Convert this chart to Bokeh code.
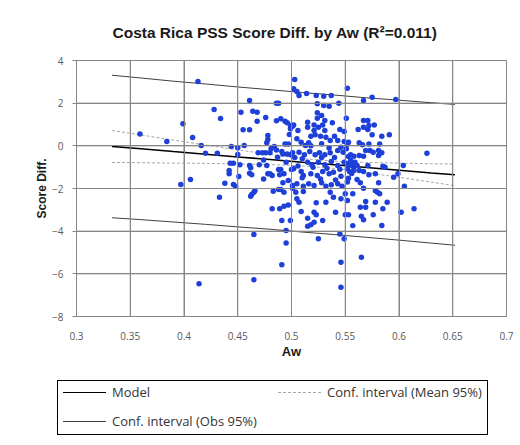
from bokeh.plotting import figure
from bokeh.layouts import column
from bokeh.models import FixedTicker, ColumnDataSource, Range1d, Div
from bokeh.embed import file_html
from bokeh.resources import INLINE

# ---------------- data ----------------
aw = [0.413, 0.399, 0.359, 0.384, 0.408, 0.416, 0.420, 0.406, 0.397, 0.414,
      0.461, 0.428, 0.453, 0.464, 0.468, 0.486, 0.488, 0.434, 0.468, 0.476,
      0.486, 0.490, 0.494, 0.496, 0.499, 0.501, 0.455, 0.461, 0.498, 0.478,
      0.478, 0.477, 0.494, 0.497, 0.444, 0.450, 0.456, 0.484, 0.486, 0.491,
      0.431, 0.450, 0.469, 0.473, 0.476, 0.480, 0.481, 0.492, 0.496, 0.499,
      0.474, 0.487, 0.495, 0.443, 0.446, 0.452, 0.461, 0.462, 0.470, 0.477,
      0.488, 0.490, 0.500, 0.442, 0.442, 0.451, 0.461, 0.463, 0.478, 0.480,
      0.482, 0.474, 0.489, 0.493, 0.497, 0.438, 0.446, 0.448, 0.492, 0.501,
      0.501, 0.466, 0.465, 0.463, 0.462, 0.483, 0.488, 0.490, 0.493, 0.433,
      0.482, 0.489, 0.493, 0.497, 0.491, 0.465, 0.495, 0.495, 0.491, 0.465,
      0.503, 0.502, 0.505, 0.507, 0.514, 0.523, 0.530, 0.537, 0.552, 0.524,
      0.530, 0.535, 0.544, 0.524, 0.528, 0.524, 0.531, 0.551, 0.502, 0.506,
      0.499, 0.515, 0.515, 0.521, 0.525, 0.529, 0.531, 0.521, 0.538, 0.545,
      0.549, 0.518, 0.522, 0.527, 0.505, 0.509, 0.513, 0.516, 0.532, 0.536,
      0.540, 0.543, 0.549, 0.552, 0.501, 0.507, 0.512, 0.517, 0.522, 0.526,
      0.531, 0.536, 0.543, 0.546, 0.551, 0.515, 0.519, 0.525, 0.531, 0.537,
      0.543, 0.549, 0.552, 0.502, 0.509, 0.511, 0.518, 0.524, 0.529, 0.535,
      0.539, 0.546, 0.505, 0.511, 0.516, 0.521, 0.528, 0.532, 0.537, 0.543,
      0.547, 0.504, 0.511, 0.536, 0.539, 0.546, 0.550, 0.505, 0.507, 0.523,
      0.532, 0.509, 0.521, 0.523, 0.541, 0.550, 0.515, 0.529, 0.521, 0.518,
      0.515, 0.499, 0.525, 0.545, 0.549, 0.546, 0.546,
      0.503, 0.510, 0.528, 0.540, 0.553, 0.506, 0.520, 0.533, 0.545, 0.556,
      0.510, 0.527, 0.541, 0.552, 0.518, 0.528, 0.535, 0.548, 0.555, 0.558,
      0.567, 0.575, 0.597, 0.567, 0.571, 0.572, 0.577, 0.562, 0.567, 0.571,
      0.575, 0.584, 0.591, 0.553, 0.563, 0.566, 0.572, 0.582, 0.569, 0.573,
      0.576, 0.581, 0.584, 0.581, 0.555, 0.558, 0.563, 0.567, 0.555, 0.559,
      0.552, 0.556, 0.561, 0.554, 0.558, 0.571, 0.563, 0.567, 0.572, 0.578,
      0.585, 0.587, 0.595, 0.599, 0.604, 0.553, 0.561, 0.564, 0.567, 0.581,
      0.578, 0.580, 0.582, 0.557, 0.552, 0.569, 0.578, 0.589, 0.564, 0.569,
      0.585, 0.553, 0.565, 0.567, 0.576, 0.602, 0.557, 0.584, 0.565,
      0.626, 0.605, 0.614]

score_diff = [3.01, 1.03, 0.56, 0.20, 0.39, 0.01, -0.35, -1.58, -1.81, -6.47,
              2.12, 1.70, 1.58, 1.62, 1.58, 2.00, 2.00, 1.28, 1.15, 1.33,
              1.17, 1.27, 1.15, 1.08, 0.95, 0.92, 0.75, 0.75, 0.53, 0.48,
              0.30, 0.14, 0.09, 0.09, -0.03, -0.09, 0.01, -0.03, -0.19, -0.27,
              -0.35, -0.41, -0.33, -0.33, -0.33, -0.33, -0.14, -0.38, -0.38, -0.42,
              -0.66, -0.53, -0.77, -0.82, -0.82, -0.89, -0.92, -1.03, -0.89, -0.92,
              -1.11, -1.11, -1.11, -1.16, -1.31, -1.44, -1.28, -1.36, -1.31, -1.31,
              -1.39, -1.55, -1.36, -1.31, -1.63, -1.75, -1.81, -1.89, -1.73, -1.86,
              -1.99, -2.10, -2.17, -2.28, -2.36, -2.13, -2.05, -2.05, -2.17, -2.41,
              -2.95, -2.95, -2.83, -2.77, -3.50, -4.16, -3.97, -4.55, -5.58, -6.28,
              3.11, 2.67, 2.55, 2.36, 2.45, 2.36, 2.33, 2.36, 2.70, 1.97,
              1.89, 1.86, 2.00, 1.55, 1.42, 1.29, 1.19, 1.29, 0.98, 0.72,
              0.80, 1.11, 0.87, 0.98, 0.87, 0.98, 0.72, 0.72, 1.08, 0.76,
              0.67, 0.45, 0.52, 0.45, 0.33, 0.17, 0.01, 0.14, 0.40, 0.25,
              0.45, 0.25, 0.20, 0.09, -0.33, -0.30, -0.42, -0.27, -0.42, -0.33,
              -0.42, -0.33, -0.22, -0.07, -0.14, -0.77, -0.89, -0.77, -0.89, -0.74,
              -0.92, -0.77, -1.08, -1.08, -1.20, -1.39, -1.31, -1.39, -1.20, -1.31,
              -1.24, -1.43, -1.78, -1.89, -1.78, -1.86, -1.73, -1.89, -1.83, -1.78,
              -1.89, -2.17, -2.14, -2.17, -2.41, -2.48, -2.25, -2.48, -2.64, -2.67,
              -2.64, -3.08, -3.11, -3.23, -3.11, -3.23, -3.39, -3.50, -3.58, -3.70,
              -3.77, -3.50, -4.36, -4.13, -4.36, -5.46, -6.63,
              -0.55, -0.60, -0.55, -0.55, -0.50, -0.95, -1.00, -1.05, -1.10, -1.30,
              -1.50, -1.55, -1.60, -1.70, 0.00, 0.10, -0.10, -0.30, -0.75, -1.00,
              2.12, 2.28, 2.17, 1.19, 1.19, 0.95, 0.98, 0.76, 0.87, 0.76,
              0.52, 0.45, 0.52, 0.17, 0.14, 0.05, 0.09, 0.09, -0.22, -0.22,
              -0.30, -0.22, -0.33, -0.45, -0.42, -0.49, -0.45, -0.49, -0.69, -0.77,
              -0.84, -0.92, -0.92, -1.20, -1.16, -0.92, -1.16, -1.20, -1.36, -1.31,
              -0.96, -1.00, -1.47, -1.31, -0.92, -1.52, -1.58, -1.73, -1.99, -1.73,
              -2.10, -2.17, -2.25, -2.25, -2.56, -2.61, -2.64, -2.64, -2.88, -2.88,
              -2.95, -3.23, -3.30, -3.46, -3.23, -3.11, -3.74, -3.74, -5.22,
              -0.35, -1.89, -2.95]

line_x = [0.333, 0.36, 0.39, 0.42, 0.45, 0.48, 0.51, 0.54, 0.57, 0.60, 0.63, 0.652]
model_y = [-0.03, -0.14, -0.27, -0.39, -0.52, -0.64, -0.77, -0.89, -1.02, -1.14, -1.27, -1.36]
mean_upper = [0.72, 0.51, 0.27, 0.04, -0.19, -0.40, -0.60, -0.72, -0.78, -0.81, -0.84, -0.85]
mean_lower = [-0.78, -0.79, -0.81, -0.82, -0.85, -0.88, -0.94, -1.06, -1.26, -1.47, -1.70, -1.87]
obs_upper = [3.31, 3.18, 3.03, 2.90, 2.76, 2.63, 2.50, 2.38, 2.25, 2.14, 2.02, 1.94]
obs_lower = [-3.37, -3.46, -3.57, -3.68, -3.80, -3.91, -4.04, -4.16, -4.29, -4.42, -4.56, -4.66]

x_ticks = [0.3, 0.35, 0.4, 0.45, 0.5, 0.55, 0.6, 0.65, 0.7]
x_tick_labels = ["0.3", "0.35", "0.4", "0.45", "0.5", "0.55", "0.6", "0.65", "0.7"]
y_ticks = [-8, -6, -4, -2, 0, 2, 4]

legend_labels = ["Model", "Conf. interval (Mean 95%)", "Conf. interval (Obs 95%)"]
title_text = "Costa Rica PSS Score Diff. by Aw (R\u00b2=0.011)"

# styles
grid_col = "#878787"
model_col = "black"
mean_col = "#a6a6a6"
obs_col = "#404040"
point_col = "#1e40d8"

# ---------------- figure ----------------
p = figure(width=520, height=376,
           x_range=Range1d(x_ticks[0], x_ticks[-1]), y_range=Range1d(y_ticks[0], y_ticks[-1]),
           output_backend="svg", toolbar_location=None,
           min_border_left=76, min_border_right=14,
           min_border_top=60, min_border_bottom=60)

p.background_fill_color = None
p.border_fill_color = None
p.outline_line_color = grid_col

p.title.text = title_text
p.title.text_font = "Liberation Sans"
p.title.text_font_size = "15.5px"
p.title.text_font_style = "bold"
p.title.text_color = "#1a1a1a"
p.title.align = "left"
p.title.offset = 36
p.title.standoff = 40

p.xaxis.ticker = FixedTicker(ticks=x_ticks)
p.xaxis.major_label_overrides = {t: l for t, l in zip(x_ticks, x_tick_labels)}
p.yaxis.ticker = FixedTicker(ticks=y_ticks)

p.xgrid.grid_line_color = grid_col
p.ygrid.grid_line_color = grid_col
p.xgrid.level = "glyph"
p.ygrid.level = "glyph"

for ax in (p.xaxis, p.yaxis):
    ax.axis_line_color = grid_col
    ax.major_tick_line_color = grid_col
    ax.minor_tick_line_color = None
    ax.major_tick_in = 0
    ax.major_label_text_font = "Open Sans"
    ax.major_label_text_font_size = "10px"
    ax.major_label_text_color = "#595959"
    ax.axis_label_text_font = "Liberation Sans"
    ax.axis_label_text_font_style = "bold"
    ax.axis_label_text_color = "#1a1a1a"

p.xaxis.major_tick_out = 0
p.xaxis.major_label_standoff = 15
p.xaxis.axis_label = "Aw"
p.xaxis.axis_label_text_font_size = "13px"
p.xaxis.axis_label_standoff = 1

p.yaxis.major_tick_out = 4
p.yaxis.major_label_standoff = 9
p.yaxis.axis_label = "Score Diff."
p.yaxis.axis_label_text_font_size = "12px"
p.yaxis.axis_label_standoff = 0

# gridlines, one path per tick (built from the tick lists)
grid_xs = [[t, t] for t in x_ticks] + [[x_ticks[0], x_ticks[-1]] for _ in y_ticks]
grid_ys = [[y_ticks[0], y_ticks[-1]] for _ in x_ticks] + [[t, t] for t in y_ticks]
p.multi_line(xs=grid_xs, ys=grid_ys, line_color=grid_col, line_width=1)

lines = ColumnDataSource(dict(x=line_x, model=model_y, mu=mean_upper, ml=mean_lower,
                              ou=obs_upper, ol=obs_lower))

p.line("x", "mu", source=lines, line_color=mean_col, line_width=1, line_dash="3 2")
p.line("x", "ml", source=lines, line_color=mean_col, line_width=1, line_dash="3 2")
p.line("x", "ou", source=lines, line_color=obs_col, line_width=1)
p.line("x", "ol", source=lines, line_color=obs_col, line_width=1)
p.line("x", "model", source=lines, line_color=model_col, line_width=1.5)

pts = ColumnDataSource(dict(x=aw, y=score_diff))
p.scatter("x", "y", source=pts, size=5.5, color=point_col, line_width=0)

# ---------------- legend strip (HTML) ----------------
sample_styles = [
    "border-top:1.5px solid %s" % model_col,
    "border-top:1px dashed %s" % mean_col,
    "border-top:1px solid %s" % obs_col,
]
sample_pos = [(5, 11), (220, 11), (5, 40)]   # left, top inside the box (px)
label_pos = [(54, 3), (269, 3), (54, 32)]
parts = []
for (lx, ly), st in zip(sample_pos, sample_styles):
    parts.append('<div style="position:absolute;left:%dpx;top:%dpx;width:43px;height:0;%s"></div>'
                 % (lx, ly, st))
for (tx, ty), lab in zip(label_pos, legend_labels):
    parts.append('<span style="position:absolute;left:%dpx;top:%dpx;line-height:16px;'
                 'white-space:nowrap">%s</span>' % (tx, ty, lab))
legend_html = (
    '<div style="position:relative;width:520px;height:69px;">'
    '<div style="position:absolute;left:57px;top:4px;width:431px;height:55px;box-sizing:border-box;'
    'border:1px solid black;background:white;font-family:\'Open Sans\';font-size:13px;color:#333333;">'
    + "".join(parts) + '</div></div>'
)
legend_div = Div(text=legend_html, width=520, height=69, margin=0)

layout = column(p, legend_div, spacing=0)

open("out.html", "w").write(file_html(layout, INLINE))
